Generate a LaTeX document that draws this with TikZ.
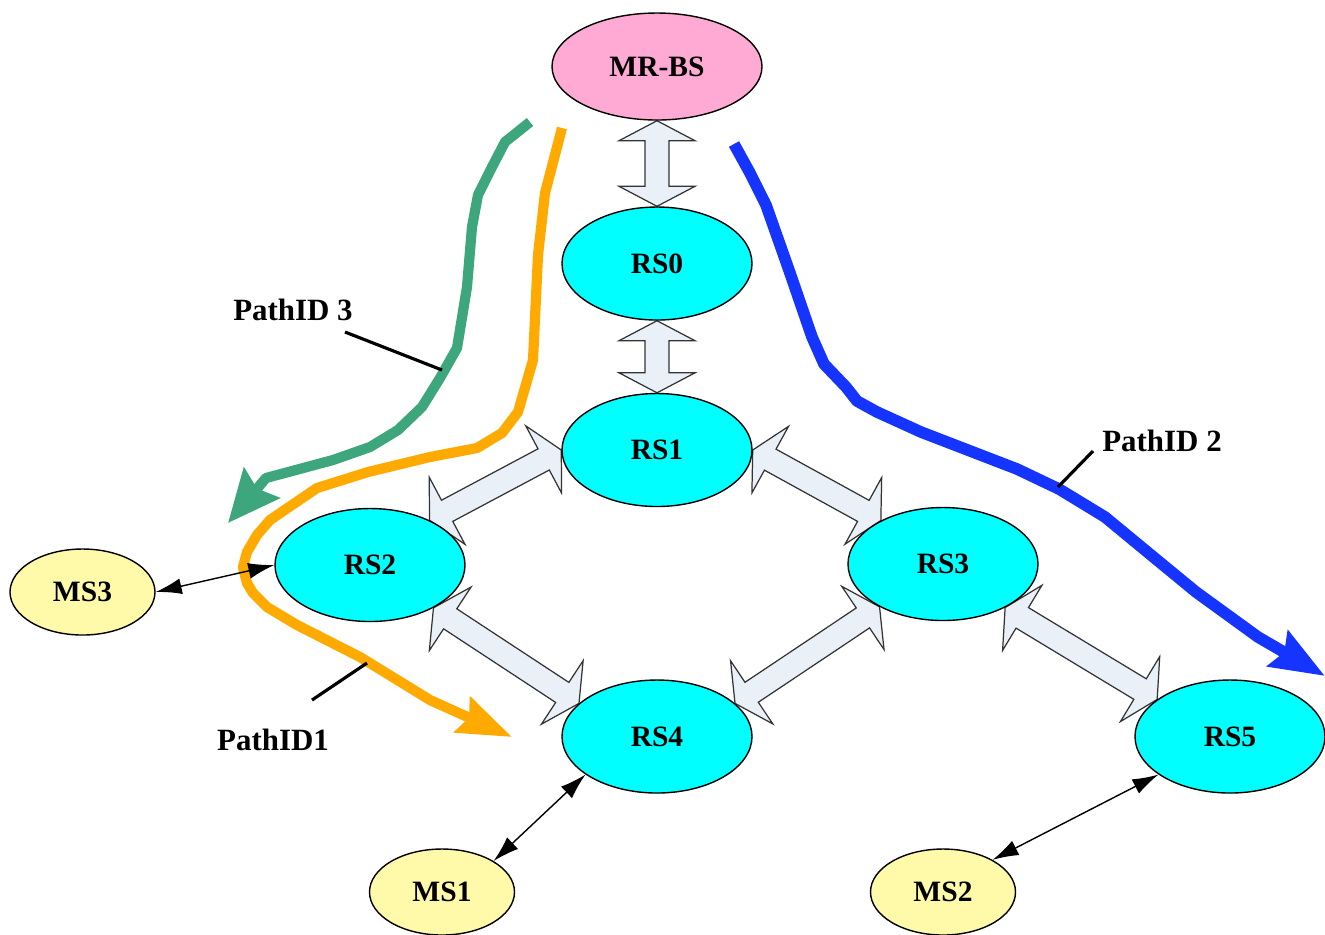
\documentclass[tikz,border=0pt]{standalone}
\usepackage{fontspec}
\setmainfont{Liberation Serif}
\usepackage{tikz}
\usetikzlibrary{shapes.geometric,arrows.meta,calc,backgrounds}
\definecolor{ColorBS}{RGB}{255,170,212}
\definecolor{ColorRS}{RGB}{0,255,255}
\definecolor{ColorMS}{RGB}{255,250,170}
\definecolor{ColorLink}{RGB}{234,240,248}
\definecolor{ColorOne}{RGB}{255,170,0}
\definecolor{ColorTwo}{RGB}{22,52,255}
\definecolor{ColorThree}{RGB}{62,166,124}
\tikzset{
  station/.style={ellipse, draw=black, line width=0.4pt, inner sep=0pt,
    font=\fontsize{8.4}{10}\selectfont\bfseries},
  relay/.style={station, fill=ColorRS, minimum width=1.9cm, minimum height=1.13cm},
  mobile/.style={station, fill=ColorMS, minimum width=1.45cm, minimum height=0.86cm},
  link/.style={draw=black!80, fill=ColorLink, line width=0.35pt},
  route/.style={line width=2.9pt, line join=round},
  access/.style={line width=0.4pt,
    {Latex[length=0.26cm,width=0.16cm]}-{Latex[length=0.26cm,width=0.16cm]}},
  pathlabel/.style={font=\fontsize{8.8}{10}\selectfont\bfseries},
  leader/.style={line width=0.9pt}
}
% mui ten khoi hai dau, #1 va #2 la hai dinh
\newcommand{\linkarrow}[2]{%
  \draw[link] (#1)
    -- ($(#1)!0.2cm!(#2)!0.38cm!90:(#2)$)
    -- ($(#1)!0.2cm!(#2)!0.12cm!90:(#2)$)
    -- ($(#2)!0.2cm!(#1)!0.12cm!-90:(#1)$)
    -- ($(#2)!0.2cm!(#1)!0.38cm!-90:(#1)$)
    -- (#2)
    -- ($(#2)!0.2cm!(#1)!0.38cm!90:(#1)$)
    -- ($(#2)!0.2cm!(#1)!0.12cm!90:(#1)$)
    -- ($(#1)!0.2cm!(#2)!0.12cm!-90:(#2)$)
    -- ($(#1)!0.2cm!(#2)!0.38cm!-90:(#2)$)
    -- cycle;}

\begin{document}
\begin{tikzpicture}
        \useasboundingbox (0,0) rectangle (13.25,-9.34);
        %Tram
        \node[station, fill=ColorBS, minimum width=2.1cm, minimum height=1.07cm] (MRBS) at (6.57,-0.665) {MR-BS};
        \node[relay] (RS0) at (6.57,-2.635) {RS0};
        \node[relay] (RS1) at (6.57,-4.50) {RS1};
        \node[relay] (RS2) at (3.70,-5.65) {RS2};
        \node[relay] (RS3) at (9.43,-5.64) {RS3};
        \node[relay] (RS4) at (6.57,-7.365) {RS4};
        \node[relay] (RS5) at (12.30,-7.365) {RS5};
        \node[mobile] (MS3) at (0.825,-5.92) {MS3};
        \node[mobile] (MS1) at (4.42,-8.92) {MS1};
        \node[mobile] (MS2) at (9.43,-8.92) {MS2};
        %Lien ket
        \begin{scope}[on background layer]
          \linkarrow{MRBS.south}{RS0.north}
          \linkarrow{RS0.south}{RS1.north}
          \linkarrow{RS1.180}{RS2.37}
          \linkarrow{RS1.0}{RS3.145}
          \linkarrow{RS2.326}{RS4.157}
          \linkarrow{RS3.214}{RS4.23}
          \linkarrow{RS3.325}{RS5.153}
        \end{scope}
        %Duong di
        \draw[route, color=ColorThree, -{Stealth[length=0.52cm,width=0.46cm,inset=0.07cm]}]
          (5.30,-1.22) -- (5.05,-1.42) -- (4.92,-1.67) -- (4.78,-1.95) -- (4.72,-2.27)
          -- (4.67,-2.87) -- (4.57,-3.48) -- (4.40,-3.78) -- (4.22,-4.07) -- (3.98,-4.30)
          -- (3.70,-4.47) -- (3.33,-4.60) -- (2.66,-4.78) -- (2.28,-5.23);
        \draw[route, color=ColorOne, -{Stealth[length=0.54cm,width=0.38cm,inset=0.07cm]}]
          (5.62,-1.28) -- (5.45,-1.93) -- (5.38,-2.55) -- (5.33,-3.60) -- (5.18,-4.12)
          -- (5.02,-4.33) -- (4.77,-4.48) -- (4.30,-4.57) -- (3.68,-4.72) -- (3.17,-4.88)
          -- (2.70,-5.20) -- (2.57,-5.35) -- (2.47,-5.52) -- (2.43,-5.67) -- (2.47,-5.83)
          -- (2.53,-5.93) -- (2.67,-6.07) -- (2.97,-6.25) -- (3.60,-6.57) -- (4.30,-7.00)
          -- (5.12,-7.37);
        \draw[route, line width=3.3pt, color=ColorTwo, -{Stealth[length=0.54cm,width=0.40cm,inset=0.07cm]}]
          (7.34,-1.44) -- (7.50,-1.73) -- (7.66,-2.05) -- (7.90,-2.73) -- (8.12,-3.37)
          -- (8.24,-3.64) -- (8.46,-3.87) -- (8.57,-4.01) -- (8.77,-4.12) -- (9.21,-4.32)
          -- (10.17,-4.69) -- (10.59,-4.89) -- (11.05,-5.17) -- (11.51,-5.55) -- (11.96,-5.92)
          -- (12.58,-6.37) -- (13.25,-6.76);
        %Nhan
        \node[pathlabel] (lbl3) at (2.93,-3.10) {PathID 3};
        \node[pathlabel] (lbl2) at (11.62,-4.41) {PathID 2};
        \node[pathlabel] (lbl1) at (2.73,-7.40) {PathID1};
        \coordinate (from3) at (3.45,-3.32);
        \coordinate (on3) at (4.42,-3.70);
        \coordinate (from2) at (10.93,-4.51);
        \coordinate (on2) at (10.58,-4.87);
        \coordinate (from1) at (3.12,-7.00);
        \coordinate (on1) at (3.67,-6.63);
        \draw[leader] (from3) -- (on3);
        \draw[leader] (from2) -- (on2);
        \draw[leader] (from1) -- (on1);
        %Tram di dong
        \draw[access] (MS3.east) -- (RS2.west);
        \draw[access] (MS1.31) -- (RS4.208);
        \draw[access] (MS2.33) -- (RS5.208);
\end{tikzpicture}
\end{document}
